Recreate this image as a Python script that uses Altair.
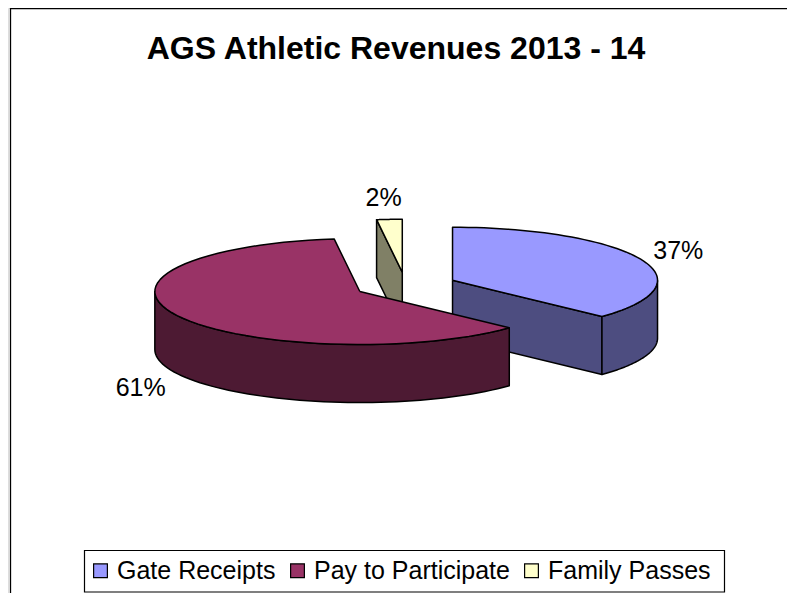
import math
import altair as alt
import pandas as pd

categories = ["Gate Receipts", "Pay to Participate", "Family Passes"]
values = [37, 61, 2]
top_colors = ["#9999FF", "#993366", "#FFFFCC"]
side_colors = ["#4D4D80", "#4D1A33", "#808066"]
title_text = "AGS Athletic Revenues 2013 - 14"

WIDTH, HEIGHT = 779, 585
MARGIN = 8
CX, CY = 405.5, 285.5  # pie centre
RX, RY = 205, 53       # ellipse radii of the tilted pie
DEPTH = 58             # extrusion
EXPLODE = 0.25
LABEL_RX = [1.2, 1.2, 1.45]
FONT = "Liberation Sans"

total = sum(values)
starts, s = [], 0.0
for v in values:
    starts.append(s)
    s += v / total * 2 * math.pi


def slice_geometry(i):
    a0 = starts[i]
    a1 = a0 + values[i] / total * 2 * math.pi
    mid = (a0 + a1) / 2
    cx = CX + EXPLODE * RX * math.sin(mid)
    cy = CY - EXPLODE * RY * math.cos(mid)
    return a0, a1, mid, cx, cy


def rim(cx, cy, a, dy=0.0):
    return (cx + RX * math.sin(a), cy - RY * math.cos(a) + dy)


def arc(cx, cy, a0, a1, dy=0.0, n=60):
    return [rim(cx, cy, a0 + (a1 - a0) * k / n, dy) for k in range(n + 1)]


def frame(points, name):
    return pd.DataFrame(
        [{"px": p[0], "py": p[1], "i": k, "name": name} for k, p in enumerate(points)]
    )


x_scale = alt.Scale(domain=[MARGIN, MARGIN + WIDTH], range=[0, WIDTH], nice=False, zero=False)
y_scale = alt.Scale(domain=[MARGIN, MARGIN + HEIGHT], range=[0, HEIGHT], nice=False, zero=False)
X = alt.X("px:Q", scale=x_scale, axis=None)
Y = alt.Y("py:Q", scale=y_scale, axis=None)
STROKE = dict(stroke="#000000", strokeWidth=1.5, strokeJoin="round")


def poly(points, fill):
    return (
        alt.Chart(frame(points, "side"))
        .mark_line(fill=fill, **STROKE)
        .encode(x=X, y=Y, order=alt.Order("i:Q"))
    )


layers = []

# yellow slice: the visible cut face
a0, a1, mid, cx, cy = slice_geometry(2)
e = rim(cx, cy, a0)
face = [e, (cx, cy), (cx, cy + DEPTH), (e[0], e[1] + DEPTH), e]
layers.append(poly(face, side_colors[2]))

# blue slice: cut face and outer wall
a0, a1, mid, cx, cy = slice_geometry(0)
e = rim(cx, cy, a1)
face = [(cx, cy), e, (e[0], e[1] + DEPTH), (cx, cy + DEPTH), (cx, cy)]
layers.append(poly(face, side_colors[0]))
wall = arc(cx, cy, math.pi / 2, a1) + arc(cx, cy, a1, math.pi / 2, DEPTH)
layers.append(poly(wall + wall[:1], side_colors[0]))

# red slice: outer wall
a0, a1, mid, cx, cy = slice_geometry(1)
wall = arc(cx, cy, a0, 1.5 * math.pi) + arc(cx, cy, 1.5 * math.pi, a0, DEPTH)
layers.append(poly(wall + wall[:1], side_colors[1]))

# top faces, carrying the legend
tops = []
for i, name in enumerate(categories):
    a0, a1, mid, cx, cy = slice_geometry(i)
    pts = [(cx, cy)] + arc(cx, cy, a0, a1) + [(cx, cy)]
    tops.append(frame(pts, name))
legend = alt.Legend(
    title=None,
    orient="none",
    legendX=76,
    legendY=543,
    direction="horizontal",
    columns=3,
    symbolType="square",
    symbolSize=190,
    symbolStrokeColor="#000000",
    symbolStrokeWidth=1.2,
    symbolOpacity=1,
    symbolOffset=-3,
    labelFont=FONT,
    labelFontSize=25,
    labelColor="#000000",
    labelLimit=400,
    labelOffset=4,
    columnPadding=12,
    padding=7,
)
layers.append(
    alt.Chart(pd.concat(tops))
    .mark_line(**STROKE)
    .encode(
        x=X,
        y=Y,
        order=alt.Order("i:Q"),
        fill=alt.Fill("name:N", scale=alt.Scale(domain=categories, range=top_colors), legend=legend),
    )
)

# percentage labels
rows = []
for i, v in enumerate(values):
    a0, a1, mid, cx, cy = slice_geometry(i)
    below = DEPTH * 1.08 if i == 1 else 0
    rows.append(
        {
            "px": cx + LABEL_RX[i] * RX * math.sin(mid),
            "py": cy - 1.4 * RY * math.cos(mid) + below,
            "label": f"{v}%",
        }
    )
layers.append(
    alt.Chart(pd.DataFrame(rows))
    .mark_text(font=FONT, fontSize=25, color="#000000", align="center", baseline="middle")
    .encode(x=X, y=Y, text="label:N")
)

# outer chart frame (left and top edges)
layers.append(
    alt.Chart(pd.DataFrame({"a": [0]}))
    .mark_rule(color="#000000", strokeWidth=1.3)
    .encode(x=alt.value(2.5), y=alt.value(0), y2=alt.value(HEIGHT))
)
layers.append(
    alt.Chart(pd.DataFrame({"a": [0]}))
    .mark_rule(color="#000000", strokeWidth=1.5)
    .encode(y=alt.value(0.5), x=alt.value(2.5), x2=alt.value(WIDTH))
)

# legend box
layers.append(
    alt.Chart(pd.DataFrame({"a": [0]}))
    .mark_rect(fill="#FFFFFF", stroke="#000000", strokeWidth=1.2)
    .encode(x=alt.value(76.5), x2=alt.value(716.5), y=alt.value(542.5), y2=alt.value(584))
)

chart = (
    alt.layer(*layers)
    .properties(
        width=WIDTH,
        height=HEIGHT,
        padding=0,
        autosize=alt.AutoSizeParams(type="none"),
        title=alt.TitleParams(
            title_text,
            font=FONT,
            fontSize=32,
            fontWeight="bold",
            color="#000000",
            anchor="middle",
            dx=-1.5,
            dy=59,
            offset=0,
        ),
    )
    .configure_view(stroke=None)
    .configure(background="#FFFFFF")
)

chart.save("out.html", embed_options={"renderer": "svg", "actions": False})
